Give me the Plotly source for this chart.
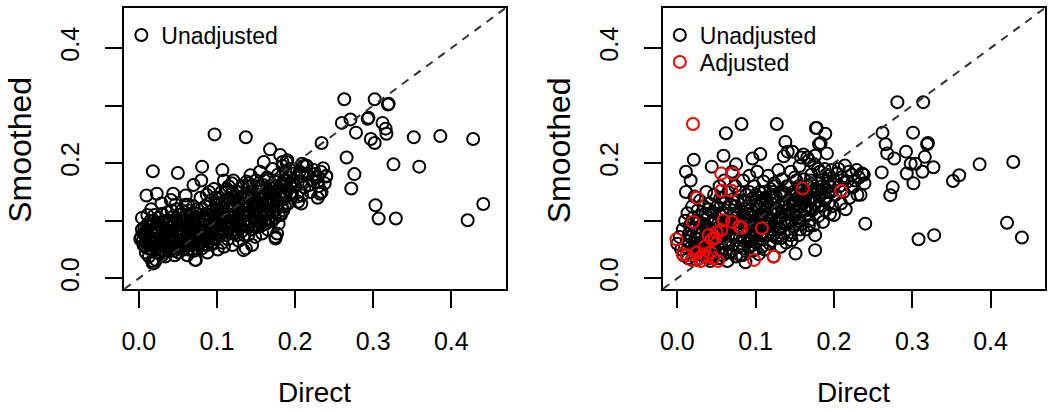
import plotly.graph_objects as go

# ---------------- data ----------------
# Left panel: (Direct, Smoothed), unadjusted only
left_unadjusted = [
    # x 0.00-0.02
    (0.003,0.072),(0.005,0.065),(0.008,0.080),(0.006,0.058),(0.010,0.092),(0.012,0.070),(0.004,0.105),
    (0.011,0.110),(0.014,0.060),(0.016,0.085),(0.018,0.048),(0.015,0.100),(0.019,0.075),(0.009,0.045),
    (0.013,0.038),(0.017,0.030),(0.020,0.055),(0.007,0.088),(0.012,0.052),(0.018,0.095),(0.0098,0.144),
    (0.018,0.186),(0.016,0.120),(0.002,0.068),(0.020,0.027),(0.018,0.026),
    # x 0.02-0.05
    (0.022,0.032),(0.024,0.045),(0.026,0.060),(0.023,0.078),(0.028,0.090),(0.025,0.105),(0.029,0.130),
    (0.023,0.147),(0.030,0.040),(0.032,0.070),(0.034,0.055),(0.031,0.098),(0.035,0.085),(0.037,0.115),
    (0.033,0.062),(0.038,0.048),(0.040,0.075),(0.041,0.136),(0.042,0.095),(0.044,0.060),(0.044,0.147),
    (0.045,0.108),(0.046,0.040),(0.047,0.082),(0.048,0.068),(0.049,0.120),(0.027,0.072),(0.036,0.100),
    (0.043,0.052),(0.039,0.088),(0.021,0.088),(0.029,0.050),(0.046,0.093),(0.034,0.038),(0.041,0.065),
    (0.049,0.056),
    # x 0.05-0.08
    (0.050,0.183),(0.051,0.045),(0.052,0.075),(0.053,0.095),(0.054,0.062),(0.055,0.118),(0.056,0.085),
    (0.057,0.050),(0.058,0.105),(0.059,0.070),(0.060,0.144),(0.061,0.090),(0.062,0.040),(0.063,0.128),
    (0.064,0.078),(0.065,0.058),(0.066,0.100),(0.067,0.112),(0.068,0.065),(0.069,0.085),(0.070,0.162),
    (0.071,0.048),(0.072,0.032),(0.073,0.095),(0.074,0.072),(0.075,0.120),(0.076,0.058),(0.077,0.105),
    (0.078,0.088),(0.079,0.140),(0.052,0.088),(0.056,0.068),(0.060,0.110),(0.064,0.095),(0.068,0.050),
    (0.072,0.082),(0.076,0.098),(0.058,0.080),(0.066,0.075),(0.070,0.105),(0.074,0.060),(0.078,0.068),
    (0.054,0.100),(0.062,0.060),(0.080,0.170),(0.073,0.032),
    # x 0.08-0.11
    (0.081,0.194),(0.081,0.052),(0.082,0.078),(0.083,0.100),(0.084,0.065),(0.085,0.125),(0.086,0.088),
    (0.087,0.145),(0.088,0.045),(0.089,0.110),(0.090,0.072),(0.091,0.095),(0.092,0.135),(0.093,0.060),
    (0.094,0.118),(0.095,0.082),(0.096,0.155),(0.097,0.250),(0.097,0.102),(0.098,0.068),(0.099,0.128),
    (0.100,0.090),(0.101,0.050),(0.102,0.112),(0.103,0.140),(0.104,0.075),(0.105,0.098),(0.106,0.122),
    (0.107,0.188),(0.107,0.062),(0.108,0.085),(0.109,0.170),(0.109,0.055),(0.110,0.108),(0.084,0.092),
    (0.088,0.058),(0.092,0.080),(0.096,0.070),(0.100,0.118),(0.104,0.088),(0.086,0.112),(0.094,0.098),
    (0.102,0.130),(0.090,0.150),(0.098,0.140),(0.106,0.150),
    # x 0.11-0.14
    (0.111,0.080),(0.112,0.135),(0.113,0.095),(0.114,0.068),(0.115,0.160),(0.116,0.118),(0.117,0.088),
    (0.118,0.145),(0.119,0.105),(0.120,0.058),(0.121,0.170),(0.122,0.128),(0.123,0.078),(0.124,0.112),
    (0.125,0.150),(0.126,0.092),(0.127,0.138),(0.128,0.065),(0.129,0.120),(0.130,0.100),(0.131,0.158),
    (0.132,0.082),(0.133,0.130),(0.134,0.049),(0.135,0.110),(0.136,0.145),(0.137,0.245),(0.137,0.090),
    (0.138,0.168),(0.139,0.120),(0.140,0.075),(0.114,0.100),(0.118,0.125),(0.122,0.110),(0.126,0.075),
    (0.130,0.140),(0.134,0.095),(0.112,0.150),(0.120,0.090),(0.128,0.105),(0.136,0.128),(0.116,0.138),
    (0.124,0.098),(0.132,0.115),(0.140,0.140),(0.137,0.052),
    # x 0.14-0.17
    (0.141,0.098),(0.142,0.160),(0.143,0.179),(0.144,0.085),(0.145,0.058),(0.146,0.130),(0.147,0.115),
    (0.148,0.145),(0.149,0.072),(0.150,0.170),(0.151,0.105),(0.152,0.125),(0.153,0.090),(0.154,0.150),
    (0.155,0.185),(0.156,0.110),(0.157,0.138),(0.158,0.078),(0.159,0.162),(0.160,0.202),(0.160,0.120),
    (0.161,0.095),(0.162,0.148),(0.163,0.130),(0.164,0.175),(0.165,0.085),(0.166,0.112),(0.167,0.158),
    (0.168,0.224),(0.168,0.140),(0.169,0.100),(0.170,0.128),(0.144,0.140),(0.148,0.120),(0.152,0.100),
    (0.156,0.160),(0.164,0.118),(0.150,0.135),(0.158,0.105),(0.166,0.135),
    # x 0.17-0.20
    (0.171,0.190),(0.172,0.115),(0.173,0.150),(0.174,0.168),(0.175,0.072),(0.176,0.135),(0.177,0.078),
    (0.178,0.180),(0.179,0.095),(0.180,0.145),(0.181,0.214),(0.182,0.160),(0.183,0.125),(0.184,0.195),
    (0.185,0.118),(0.186,0.170),(0.187,0.140),(0.188,0.185),(0.189,0.202),(0.190,0.155),(0.191,0.130),
    (0.192,0.175),(0.193,0.190),(0.194,0.145),(0.196,0.147),(0.197,0.165),(0.198,0.182),(0.200,0.160),
    (0.174,0.105),(0.178,0.155),(0.182,0.110),(0.186,0.150),(0.176,0.120),(0.184,0.165),(0.184,0.202),
    (0.190,0.205),(0.175,0.069),
    # x 0.20-0.24
    (0.203,0.175),(0.204,0.133),(0.206,0.185),(0.208,0.168),(0.209,0.144),(0.211,0.195),(0.212,0.158),
    (0.214,0.196),(0.216,0.180),(0.218,0.162),(0.220,0.150),(0.222,0.170),(0.224,0.188),(0.226,0.175),
    (0.229,0.176),(0.230,0.160),(0.232,0.147),(0.234,0.235),(0.236,0.191),(0.238,0.165),(0.240,0.177),
    (0.229,0.140),(0.209,0.199),(0.215,0.195),(0.226,0.181),(0.233,0.185),(0.240,0.178),(0.229,0.168),
    (0.234,0.150),(0.209,0.182),(0.203,0.142),(0.208,0.130),
    # x > 0.25
    (0.263,0.311),(0.302,0.311),(0.319,0.302),(0.320,0.303),(0.260,0.270),(0.271,0.276),(0.293,0.277),
    (0.294,0.279),(0.312,0.270),(0.278,0.253),(0.297,0.242),(0.302,0.235),(0.316,0.260),(0.317,0.251),
    (0.352,0.245),(0.386,0.247),(0.428,0.242),(0.266,0.210),(0.276,0.181),(0.272,0.156),(0.326,0.198),
    (0.359,0.194),(0.303,0.127),(0.307,0.104),(0.329,0.104),(0.421,0.101),(0.441,0.129),
    # dense core (x 0.00-0.10)
    (0.006,0.078),(0.009,0.062),(0.011,0.084),(0.014,0.072),(0.017,0.064),(0.021,0.068),(0.024,0.058),
    (0.026,0.082),(0.028,0.066),(0.031,0.058),(0.033,0.080),(0.036,0.070),(0.038,0.062),(0.041,0.082),
    (0.043,0.072),(0.046,0.064),(0.048,0.078),(0.051,0.066),(0.053,0.058),(0.055,0.078),(0.058,0.064),
    (0.061,0.076),(0.063,0.068),(0.066,0.062),(0.069,0.074),(0.071,0.064),(0.074,0.080),(0.077,0.070),
    (0.080,0.062),(0.083,0.084),(0.085,0.074),(0.088,0.068),(0.091,0.086),(0.094,0.078),(0.097,0.088),
    (0.013,0.090),(0.019,0.100),(0.024,0.094),(0.030,0.086),(0.035,0.094),(0.040,0.100),(0.045,0.090),
    (0.050,0.098),(0.055,0.092),(0.061,0.100),(0.066,0.090),(0.071,0.096),(0.076,0.086),(0.081,0.094),
    (0.087,0.098),(0.092,0.104),(0.098,0.110),(0.022,0.050),(0.027,0.044),(0.032,0.048),(0.039,0.055),
    (0.045,0.048),(0.050,0.052),(0.056,0.056),(0.063,0.050),(0.069,0.058),(0.075,0.052),(0.082,0.058),
    (0.089,0.064),(0.095,0.060),(0.015,0.052),(0.008,0.055),(0.004,0.085),(0.010,0.075),(0.020,0.110),
    (0.030,0.112),(0.042,0.118),(0.052,0.110),(0.064,0.118),(0.075,0.112),(0.085,0.105),(0.060,0.128),
    (0.047,0.128),(0.070,0.125),(0.080,0.120),
    # dense core (x 0.10-0.20)
    (0.101,0.095),(0.103,0.105),(0.105,0.115),(0.108,0.125),(0.110,0.135),(0.112,0.090),(0.114,0.112),
    (0.116,0.100),(0.118,0.080),(0.120,0.120),(0.122,0.140),(0.124,0.085),(0.126,0.130),(0.128,0.115),
    (0.130,0.090),(0.132,0.125),(0.134,0.140),(0.136,0.100),(0.138,0.110),(0.140,0.125),(0.142,0.115),
    (0.144,0.100),(0.146,0.150),(0.148,0.090),(0.150,0.115),(0.152,0.140),(0.154,0.125),(0.156,0.095),
    (0.158,0.130),(0.160,0.145),(0.162,0.110),(0.164,0.155),(0.166,0.100),(0.168,0.120),(0.170,0.150),
    (0.172,0.135),(0.174,0.145),(0.176,0.160),(0.178,0.130),(0.180,0.170),(0.182,0.140),(0.185,0.160),
    (0.188,0.150),(0.190,0.170),(0.194,0.160),(0.198,0.170),(0.113,0.155),(0.119,0.165),(0.127,0.150),
    (0.133,0.160),(0.141,0.165),(0.147,0.130),(0.153,0.160),(0.161,0.170),(0.106,0.082),(0.115,0.085),
    (0.125,0.080),(0.135,0.075),(0.145,0.085),(0.155,0.090),(0.163,0.095),(0.171,0.100),(0.179,0.110),
    (0.187,0.125),
]

# Right panel: unadjusted (black) and adjusted (red)
right_unadjusted = [
    # x 0.00-0.02
    (0.000,0.060),(0.003,0.072),(0.005,0.050),(0.007,0.085),(0.008,0.040),(0.010,0.100),(0.011,0.185),
    (0.011,0.150),(0.012,0.065),(0.013,0.113),(0.014,0.035),(0.015,0.078),(0.016,0.092),(0.017,0.170),
    (0.018,0.055),(0.019,0.125),(0.020,0.045),(0.020,0.105),
    # x 0.02-0.05
    (0.021,0.206),(0.022,0.142),(0.023,0.070),(0.024,0.088),(0.025,0.032),(0.026,0.118),(0.027,0.058),
    (0.028,0.098),(0.029,0.135),(0.030,0.045),(0.031,0.078),(0.032,0.110),(0.033,0.065),(0.034,0.125),
    (0.035,0.038),(0.036,0.090),(0.037,0.150),(0.038,0.052),(0.039,0.105),(0.040,0.072),(0.041,0.130),
    (0.042,0.030),(0.043,0.095),(0.044,0.194),(0.044,0.060),(0.045,0.115),(0.046,0.082),(0.047,0.145),
    (0.048,0.042),(0.049,0.100),(0.050,0.068),(0.025,0.080),(0.033,0.095),(0.040,0.120),(0.047,0.055),
    # x 0.05-0.08
    (0.051,0.125),(0.052,0.088),(0.053,0.035),(0.054,0.160),(0.055,0.070),(0.056,0.108),(0.057,0.050),
    (0.058,0.140),(0.059,0.213),(0.059,0.092),(0.060,0.170),(0.061,0.062),(0.062,0.252),(0.062,0.118),
    (0.063,0.080),(0.064,0.030),(0.065,0.150),(0.066,0.100),(0.067,0.045),(0.068,0.128),(0.069,0.075),
    (0.070,0.185),(0.071,0.058),(0.072,0.112),(0.073,0.090),(0.074,0.160),(0.075,0.198),(0.075,0.038),
    (0.076,0.072),(0.077,0.135),(0.078,0.098),(0.079,0.055),(0.080,0.150),(0.055,0.140),(0.065,0.085),
    (0.072,0.138),
    # x 0.08-0.11
    (0.081,0.082),(0.082,0.268),(0.082,0.118),(0.083,0.040),(0.084,0.170),(0.085,0.065),(0.086,0.105),
    (0.087,0.028),(0.088,0.145),(0.089,0.088),(0.090,0.125),(0.091,0.055),(0.092,0.178),(0.093,0.100),
    (0.094,0.072),(0.095,0.138),(0.096,0.208),(0.096,0.048),(0.097,0.115),(0.098,0.160),(0.099,0.085),
    (0.100,0.062),(0.101,0.128),(0.102,0.185),(0.103,0.095),(0.104,0.042),(0.105,0.150),(0.106,0.216),
    (0.106,0.078),(0.107,0.110),(0.108,0.135),(0.109,0.068),(0.110,0.168),(0.088,0.100),(0.094,0.120),
    (0.100,0.145),(0.104,0.110),
    # x 0.11-0.14
    (0.111,0.092),(0.112,0.050),(0.113,0.140),(0.114,0.118),(0.115,0.075),(0.116,0.178),(0.117,0.102),
    (0.118,0.060),(0.119,0.155),(0.120,0.130),(0.121,0.085),(0.122,0.112),(0.123,0.038),(0.124,0.165),
    (0.125,0.098),(0.126,0.142),(0.127,0.268),(0.127,0.070),(0.128,0.120),(0.129,0.188),(0.130,0.088),
    (0.131,0.150),(0.132,0.055),(0.133,0.108),(0.134,0.172),(0.135,0.130),(0.136,0.212),(0.136,0.078),
    (0.137,0.095),(0.138,0.237),(0.138,0.145),(0.139,0.062),(0.140,0.118),(0.115,0.125),(0.122,0.150),
    (0.130,0.105),
    # x 0.14-0.17
    (0.141,0.220),(0.141,0.100),(0.142,0.160),(0.143,0.135),(0.144,0.080),(0.145,0.185),(0.146,0.066),
    (0.147,0.220),(0.147,0.112),(0.148,0.150),(0.149,0.090),(0.150,0.128),(0.151,0.043),(0.152,0.170),
    (0.153,0.105),(0.154,0.140),(0.155,0.075),(0.156,0.195),(0.157,0.118),(0.158,0.210),(0.158,0.155),
    (0.159,0.095),(0.160,0.132),(0.161,0.215),(0.162,0.172),(0.163,0.108),(0.164,0.145),(0.165,0.085),
    (0.166,0.210),(0.166,0.125),(0.167,0.160),(0.168,0.205),(0.169,0.100),(0.170,0.140),
    # x 0.17-0.20
    (0.171,0.180),(0.172,0.118),(0.173,0.152),(0.174,0.092),(0.175,0.198),(0.176,0.075),(0.176,0.049),
    (0.176,0.213),(0.177,0.261),(0.178,0.261),(0.178,0.135),(0.179,0.165),(0.180,0.108),(0.181,0.233),
    (0.182,0.185),(0.183,0.235),(0.183,0.145),(0.184,0.125),(0.185,0.172),(0.186,0.098),(0.187,0.155),
    (0.188,0.190),(0.189,0.251),(0.189,0.118),(0.190,0.140),(0.191,0.217),(0.192,0.165),(0.193,0.130),
    (0.194,0.178),(0.195,0.112),(0.196,0.150),(0.197,0.188),(0.198,0.125),(0.200,0.110),(0.200,0.170),
    # x 0.20-0.25
    (0.202,0.145),(0.204,0.182),(0.206,0.190),(0.207,0.160),(0.209,0.130),(0.210,0.175),(0.212,0.150),
    (0.214,0.196),(0.215,0.120),(0.217,0.168),(0.219,0.185),(0.220,0.140),(0.222,0.158),(0.223,0.180),
    (0.225,0.159),(0.227,0.170),(0.229,0.188),(0.230,0.145),(0.232,0.175),(0.234,0.145),(0.236,0.182),
    (0.238,0.180),(0.240,0.095),(0.239,0.165),
    # x > 0.25
    (0.281,0.306),(0.314,0.306),(0.262,0.253),(0.301,0.253),(0.266,0.233),(0.319,0.233),(0.320,0.235),
    (0.268,0.217),(0.277,0.208),(0.292,0.220),(0.298,0.199),(0.304,0.199),(0.316,0.211),(0.327,0.193),
    (0.313,0.185),(0.293,0.182),(0.3015,0.165),(0.261,0.184),(0.275,0.158),(0.272,0.1445),(0.352,0.169),
    (0.360,0.179),(0.386,0.198),(0.429,0.202),(0.308,0.068),(0.328,0.075),(0.421,0.0966),(0.440,0.071),
    # dense core
    (0.022,0.055),(0.026,0.100),(0.029,0.075),(0.032,0.060),(0.036,0.112),(0.039,0.085),(0.042,0.068),
    (0.046,0.098),(0.049,0.080),(0.052,0.060),(0.054,0.112),(0.057,0.085),(0.060,0.075),(0.063,0.100),
    (0.066,0.060),(0.068,0.090),(0.071,0.072),(0.074,0.105),(0.077,0.085),(0.080,0.070),(0.083,0.098),
    (0.086,0.080),(0.089,0.112),(0.092,0.065),(0.095,0.090),(0.098,0.100),(0.101,0.075),(0.104,0.125),
    (0.107,0.090),(0.110,0.080),(0.113,0.105),(0.116,0.090),(0.119,0.115),(0.122,0.075),(0.125,0.120),
    (0.128,0.100),(0.131,0.085),(0.134,0.125),(0.137,0.110),(0.140,0.095),(0.143,0.120),(0.146,0.100),
    (0.149,0.135),(0.152,0.115),(0.155,0.100),(0.158,0.125),(0.161,0.140),(0.164,0.118),(0.167,0.135),
    (0.170,0.120),(0.173,0.140),(0.176,0.155),(0.180,0.125),(0.184,0.150),(0.188,0.135),(0.015,0.065),
    (0.018,0.085),(0.010,0.055),(0.034,0.050),(0.044,0.048),(0.058,0.040),(0.070,0.048),(0.084,0.052),
    (0.096,0.058),(0.108,0.055),(0.120,0.065),(0.133,0.070),(0.145,0.075),(0.157,0.085),(0.168,0.092),
    (0.060,0.130),(0.085,0.135),(0.110,0.150),(0.125,0.160),(0.092,0.150),(0.140,0.160),(0.150,0.175),
    (0.170,0.170),(0.180,0.190),(0.195,0.160),
    (0.030,0.062),(0.037,0.072),(0.045,0.058),(0.053,0.075),(0.062,0.088),(0.070,0.100),(0.078,0.112),
    (0.087,0.120),(0.095,0.110),(0.103,0.102),(0.112,0.128),(0.121,0.140),(0.129,0.132),(0.138,0.125),
    (0.147,0.145),(0.156,0.135),(0.165,0.150),(0.175,0.130),(0.185,0.160),(0.193,0.150),(0.098,0.075),
    (0.115,0.095),(0.132,0.095),(0.150,0.108),(0.162,0.120),(0.042,0.085),(0.058,0.115),(0.075,0.125),
    (0.090,0.095),(0.105,0.140),(0.120,0.100),(0.135,0.150),(0.155,0.160),(0.172,0.165),(0.190,0.180),
    (0.026,0.042),(0.040,0.035),(0.062,0.045),(0.080,0.040),(0.100,0.050),
]

right_adjusted = [
    (0.020,0.268),(0.056,0.182),(0.071,0.182),(0.056,0.152),(0.069,0.152),(0.025,0.140),(0.160,0.156),
    (0.209,0.152),(0.020,0.098),(0.059,0.101),(0.070,0.098),(0.079,0.090),(0.082,0.088),(0.108,0.087),
    (0.040,0.075),(0.044,0.068),(0.050,0.080),(0.048,0.070),(-0.001,0.068),(0.007,0.042),(0.018,0.032),
    (0.028,0.035),(0.030,0.030),(0.038,0.038),(0.042,0.045),(0.046,0.035),(0.035,0.055),(0.056,0.084),
    (0.098,0.032),(0.123,0.038),(0.012,0.040),(0.025,0.045),(0.033,0.042),(0.052,0.030),
]

tick_vals = [0.0, 0.1, 0.2, 0.3, 0.4]
x_tick_text = ["0.0", "0.1", "0.2", "0.3", "0.4"]
y_tick_text = ["0.0", "", "0.2", "", "0.4"]
axis_range = [-0.0185, 0.4695]

FONT = "Liberation Sans, Arial, Helvetica, sans-serif"


def xs(pts):
    return [p[0] for p in pts]


def ys(pts):
    return [p[1] for p in pts]


marker_black = dict(symbol="circle-open", size=12, color="black", line=dict(width=2, color="black"))
marker_red = dict(symbol="circle-open", size=12, color="#ff0000", line=dict(width=2, color="#ff0000"))

fig = go.Figure()
fig.add_trace(go.Scatter(x=xs(left_unadjusted), y=ys(left_unadjusted), mode="markers",
                         marker=marker_black, name="Unadjusted", xaxis="x", yaxis="y",
                         legend="legend"))
fig.add_trace(go.Scatter(x=xs(right_unadjusted), y=ys(right_unadjusted), mode="markers",
                         marker=marker_black, name="Unadjusted", xaxis="x2", yaxis="y2",
                         legend="legend2"))
fig.add_trace(go.Scatter(x=xs(right_adjusted), y=ys(right_adjusted), mode="markers",
                         marker=marker_red, name="Adjusted", xaxis="x2", yaxis="y2",
                         legend="legend3"))

# identity reference lines
for xr, yr in (("x", "y"), ("x2", "y2")):
    fig.add_shape(type="line", xref=xr, yref=yr, x0=axis_range[0], y0=axis_range[0],
                  x1=axis_range[1], y1=axis_range[1],
                  line=dict(color="#333333", width=2, dash="8px,7px"), layer="above")

W, H = 1050, 412
top, bottom = 8, 289.3
plot_h = bottom - top


def px_x(sx):
    return sx / W


def py_y(sy):
    return (bottom - sy) / plot_h


xaxis_common = dict(range=axis_range, tickvals=tick_vals, ticktext=x_tick_text,
                    showgrid=False, zeroline=False, showline=True, mirror=True,
                    linecolor="black", linewidth=2, ticks="outside", ticklen=17,
                    tickwidth=2, tickcolor="black", ticklabelstandoff=12,
                    tickfont=dict(family=FONT, size=25, color="black"))
yaxis_common = dict(range=axis_range, tickvals=tick_vals, ticktext=y_tick_text,
                    showgrid=False, zeroline=False, showline=True, mirror=True,
                    linecolor="black", linewidth=2, ticks="outside", ticklen=17,
                    tickwidth=2, tickcolor="black", tickangle=-90, ticklabelstandoff=16,
                    tickfont=dict(family=FONT, size=25, color="black"))

legend_common = dict(xanchor="left", yanchor="top", bgcolor="rgba(0,0,0,0)",
                     font=dict(family=FONT, size=23, color="black"))

fig.update_layout(
    width=W, height=H,
    margin=dict(l=0, r=0, t=top, b=H - bottom, pad=0),
    paper_bgcolor="white", plot_bgcolor="white",
    xaxis=dict(domain=[px_x(121.7), px_x(504)], anchor="y", **xaxis_common),
    yaxis=dict(domain=[0, 1], anchor="x", **yaxis_common),
    xaxis2=dict(domain=[px_x(661.7), px_x(1045)], anchor="y2", **xaxis_common),
    yaxis2=dict(domain=[0, 1], anchor="x2", **yaxis_common),
    legend=dict(x=px_x(118.7), y=py_y(13.5), **legend_common),
    legend2=dict(x=px_x(658.7), y=py_y(13.5), **legend_common),
    legend3=dict(x=px_x(658.7), y=py_y(40.5), **legend_common),
    showlegend=True,
)

for cx in ((121.7 + 504) / 2, (661.7 + 1045) / 2):
    fig.add_annotation(text="Direct", xref="paper", yref="paper", x=px_x(cx),
                       y=py_y(393), showarrow=False,
                       font=dict(family=FONT, size=28, color="black"),
                       xanchor="center", yanchor="middle")
for cx in (17, 557):
    fig.add_annotation(text="Smoothed", xref="paper", yref="paper", x=px_x(cx),
                       y=py_y(150), showarrow=False, textangle=-90,
                       font=dict(family=FONT, size=32, color="black"),
                       xanchor="center", yanchor="middle")

fig.write_html("out.html", config={"displayModeBar": False},
               post_script="document.body.style.margin='0px';")
